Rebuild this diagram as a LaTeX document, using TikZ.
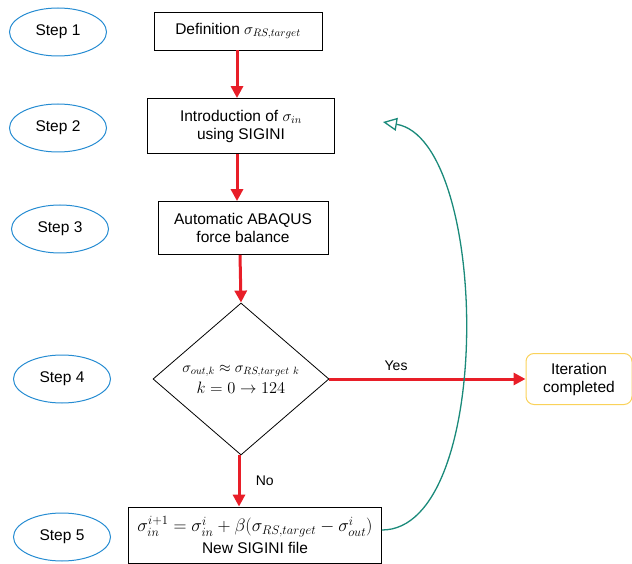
\RequirePackage{fix-cm}
\documentclass[tikz,border=0pt]{standalone}
\usepackage{amsmath}
\usepackage{fontspec}
\setmainfont{Liberation Sans}
\usepackage{xcolor}
\usepackage{tikz}
\usetikzlibrary{arrows.meta,positioning,shapes.geometric,calc}

\definecolor{stepblue}{RGB}{38,140,210}
\definecolor{flowred}{RGB}{232,30,40}
\definecolor{loopteal}{RGB}{26,138,122}
\definecolor{doneyellow}{RGB}{250,210,90}

\begin{document}
\begin{tikzpicture}[
  x=1pt,
  y=-1pt,
  font=\fontsize{15.5}{19}\selectfont,
  stepnode/.style={
    draw=stepblue,
    ellipse,
    line width=1pt,
    minimum width=97pt,
    minimum height=48pt,
    inner sep=0pt
  },
  block/.style={
    draw,
    line width=0.8pt,
    align=center,
    inner sep=0pt
  },
  check/.style={
    draw,
    diamond,
    line width=0.8pt,
    aspect=1.16,
    minimum width=176pt,
    minimum height=152pt,
    inner sep=0pt,
    align=center
  },
  done/.style={
    draw=doneyellow,
    rounded corners=8pt,
    line width=1pt,
    align=center,
    minimum width=106pt,
    minimum height=51pt,
    inner sep=0pt
  },
  flow/.style={
    -{Triangle[length=12pt,width=12pt]},
    draw=flowred,
    line width=3pt
  },
  back/.style={
    -{Triangle[open,length=14pt,width=13pt]},
    draw=loopteal,
    line width=1.3pt
  },
  answer/.style={
    text=black,
    font=\fontsize{14}{16}\selectfont
  }
]
\useasboundingbox (0,0) rectangle (632,564);

%-----------------------------
% Step labels
%-----------------------------
\node[stepnode] (s1) at (58,32)  {Step 1};
\node[stepnode] (s2) at (58,128) {Step 2};
\node[stepnode] (s3) at (60,229) {Step 3};
\node[stepnode] (s4) at (62,379) {Step 4};
\node[stepnode] (s5) at (62,537) {Step 5};

%-----------------------------
% Procedure blocks
%-----------------------------
\node[block, minimum width=168pt, minimum height=38pt] (def) at (238,31)
  {Definition $\sigma_{RS,target}$};
\node[block, minimum width=187pt, minimum height=55pt] (intro) at (241,126)
  {Introduction of $\sigma_{in}$\\[-1pt]using SIGINI};
\node[block, minimum width=170pt, minimum height=53pt] (abq) at (243,228)
  {Automatic ABAQUS\\[-1pt]force balance};
\node[check] (conv) at (241,379)
  {{\fontsize{15}{18}\selectfont $\sigma_{out,k} \approx \sigma_{RS,target\ k}$}\\[2pt]{\fontsize{16.5}{18}\selectfont $k = 0 \rightarrow 124$}};
\node[done] (iter) at (579,379) {Iteration\\[-1pt]completed};
\node[block, minimum width=253pt, minimum height=56pt] (upd) at (255,535)
  {{\fontsize{18}{20}\selectfont $\sigma_{in}^{i+1} = \sigma_{in}^{i} + \beta(\sigma_{RS,target} - \sigma_{out}^{i})$}\\[3pt]New SIGINI file};

%-----------------------------
% Flow
%-----------------------------
\draw[flow] (def.south -| 237,0) -- (intro.north -| 237,0);
\draw[flow] (intro.south -| 237,0) -- (abq.north -| 237,0);
\draw[flow] (abq.south -| 240,0) -- (conv.north);
\draw[flow] (conv.east) -- node[pos=0.34, above=4pt, answer] {Yes} (iter.west);
\draw[flow] (conv.south -| 239,0) -- node[right=12pt, answer] {No} (upd.north -| 239,0);

% loop back to step 2
\coordinate (ret) at (383,122);
\draw[back] ([yshift=5pt]upd.east) .. controls (495,530) and (490,140) .. (ret);

\end{tikzpicture}
\end{document}
